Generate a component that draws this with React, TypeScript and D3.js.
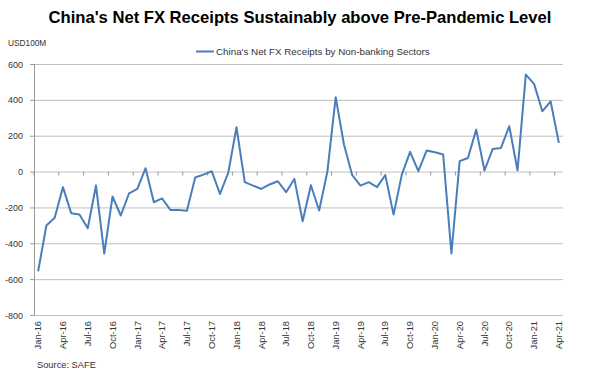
import React from "react";
import * as d3 from "d3";

const months: string[] = (() => {
  const m = ["Jan","Feb","Mar","Apr","May","Jun","Jul","Aug","Sep","Oct","Nov","Dec"];
  const out: string[] = [];
  for (let y = 16; y <= 21; y++) for (const mm of m) out.push(`${mm}-${y}`);
  return out.slice(0, 64);
})();

const netFX: number[] = [
  -556, -301, -258, -87, -232, -240, -316, -78, -457, -139, -245, -121,
  -97, 19, -171, -150, -214, -215, -219, -33, -17, 2, -125, -7,
  247, -59, -78, -97, -72, -54, -115, -41, -277, -76, -217, 2,
  415, 151, -20, -78, -59, -87, -20, -240, -17, 110, 2, 117,
  108, 95, -457, 58, 76, 234, 6, 126, 132, 253, 6, 541,
  489, 336, 392, 160,
];

const yTicks: number[] = [600, 400, 200, 0, -200, -400, -600, -800];
const title = "China's Net FX Receipts Sustainably above Pre-Pandemic Level";
const seriesName = "China's Net FX Receipts by Non-banking Sectors";
const unitLabel = "USD100M";
const sourceLabel = "Source: SAFE";

export default function App() {
  const W = 600, H = 377;
  const left = 34, right = 563, top = 64, bottom = 315;
  const x = d3.scaleBand<string>().domain(months).range([left, right]);
  const y = d3.scaleLinear().domain([-800, 600]).range([bottom, top]);
  const line = d3.line<number>()
    .x((_, i) => (x(months[i]) as number) + x.bandwidth() / 2)
    .y((d) => y(d));
  const font = "Arial, 'Liberation Sans', sans-serif";
  const labelIdx = months.map((_, i) => i).filter((i) => i % 3 === 0);
  const tickIdx = d3.range(0, months.length + 1, 3);
  return (
    <svg width={W} height={H} style={{ position: "absolute", left: 0, top: 0, background: "#fff" }} fontFamily={font}>
      <text x={300} y={23} textAnchor="middle" fontSize={16.6} fontWeight="bold" fill="#000">{title}</text>
      <text x={8} y={46} fontSize={8.3} fill="#333">{unitLabel}</text>
      <line x1={196} x2={214} y1={51.5} y2={51.5} stroke="#4a7ebb" strokeWidth={2} />
      <text x={216} y={55} fontSize={9.8} fill="#333">{seriesName}</text>
      {yTicks.map((t) => (
        <g key={t}>
          <line x1={left} x2={right} y1={y(t) + 0.5} y2={y(t) + 0.5} stroke="#bfbfbf" strokeWidth={1} />
          <line x1={left - 4} x2={left} y1={y(t) + 0.5} y2={y(t) + 0.5} stroke="#999" strokeWidth={1} />
          <text x={23} y={y(t) + 3.5} textAnchor="end" fontSize={9} fill="#333">{t}</text>
        </g>
      ))}
      <line x1={left + 0.5} x2={left + 0.5} y1={top} y2={bottom} stroke="#999" strokeWidth={1} />
      {tickIdx.map((k) => {
        const xx = left + k * x.step();
        return <line key={k} x1={xx} x2={xx} y1={y(0)} y2={y(0) + 4} stroke="#999" strokeWidth={1} />;
      })}
      {labelIdx.map((i) => {
        const cx = (x(months[i]) as number) + x.bandwidth() / 2;
        return (
          <text key={i} transform={`translate(${cx + 3.2},${bottom + 6}) rotate(-90)`} textAnchor="end" fontSize={9.3} fill="#333">
            {months[i]}
          </text>
        );
      })}
      <path d={line(netFX) || ""} fill="none" stroke="#4a7ebb" strokeWidth={2} strokeLinejoin="round" />
      <text x={37} y={368} fontSize={9.3} fill="#333">{sourceLabel}</text>
    </svg>
  );
}
